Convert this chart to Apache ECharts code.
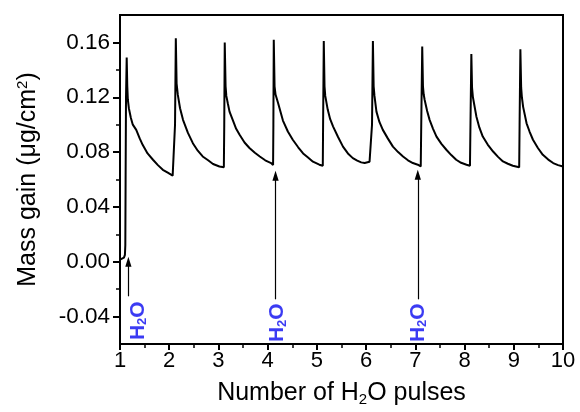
<!DOCTYPE html>
<html>
<head>
<meta charset="utf-8">
<script src="https://cdn.jsdelivr.net/npm/echarts@6/dist/echarts.min.js"></script>
<style>html,body{margin:0;padding:0;background:#fff;}#c{width:580px;height:412px;}</style>
</head>
<body>
<div id="c"></div>
<script>
// ---- data: [pulse number, mass gain (ug/cm2)] ----
var start = [[1.00,0.0015],[1.04,0.002],[1.08,0.003],[1.10,0.005],[1.108,0.012],[1.114,0.06],[1.122,0.12],[1.136,0.149]];
var cycle1 = [[1.148,0.128],[1.160,0.118],[1.18,0.112],[1.22,0.105],[1.26,0.100],[1.33,0.0962],[1.40,0.090],[1.46,0.0853],[1.56,0.079],[1.67,0.0744],[1.77,0.0705],[1.87,0.0671],[1.97,0.065],[2.07,0.0628],[2.11,0.062],[2.118,0.10],[2.134,0.163]];
var cycle2 = [[2.150,0.130],[2.175,0.1217],[2.22,0.112],[2.28,0.1035],[2.38,0.094],[2.48,0.0865],[2.58,0.081],[2.68,0.0768],[2.79,0.074],[2.89,0.0713],[3.02,0.0695],[3.11,0.069],[3.118,0.10],[3.128,0.160]];
var cycle3 = [[3.145,0.128],[3.16,0.121],[3.19,0.1156],[3.225,0.1095],[3.29,0.1035],[3.36,0.097],[3.43,0.0926],[3.53,0.087],[3.63,0.083],[3.74,0.0795],[3.84,0.0768],[3.95,0.074],[4.07,0.072],[4.11,0.0705],[4.116,0.10],[4.124,0.162]];
var cycle4 = [[4.14,0.128],[4.16,0.122],[4.21,0.116],[4.31,0.103],[4.41,0.095],[4.51,0.089],[4.62,0.0835],[4.72,0.079],[4.82,0.076],[4.92,0.073],[5.05,0.0708],[5.12,0.070],[5.126,0.10],[5.14,0.161]];
var cycle5 = [[5.155,0.128],[5.17,0.121],[5.22,0.111],[5.27,0.104],[5.33,0.0986],[5.43,0.091],[5.53,0.084],[5.63,0.079],[5.73,0.0756],[5.82,0.0738],[5.90,0.0725],[5.97,0.072],[6.07,0.073],[6.11,0.0725],[6.12,0.10],[6.138,0.161]];
var cycle6 = [[6.153,0.128],[6.17,0.121],[6.21,0.1095],[6.27,0.102],[6.34,0.0962],[6.44,0.090],[6.545,0.084],[6.65,0.080],[6.75,0.0768],[6.85,0.074],[6.95,0.072],[7.05,0.0708],[7.11,0.0695],[7.12,0.10],[7.14,0.157]];
var cycle7 = [[7.155,0.128],[7.17,0.122],[7.19,0.118],[7.24,0.110],[7.29,0.1035],[7.36,0.097],[7.43,0.0913],[7.53,0.086],[7.63,0.0817],[7.73,0.0778],[7.83,0.0744],[7.93,0.0722],[8.04,0.0708],[8.11,0.070],[8.12,0.10],[8.138,0.1515]];
var cycle8 = [[8.152,0.127],[8.17,0.120],[8.24,0.106],[8.30,0.098],[8.37,0.0913],[8.47,0.0855],[8.58,0.0804],[8.68,0.0765],[8.78,0.0732],[8.88,0.0715],[8.98,0.070],[9.11,0.069],[9.118,0.10],[9.134,0.155]];
var cycle9 = [[9.15,0.127],[9.165,0.120],[9.19,0.113],[9.26,0.101],[9.32,0.095],[9.39,0.089],[9.49,0.083],[9.59,0.078],[9.70,0.0745],[9.80,0.072],[9.90,0.0705],[10.0,0.0695]];

var yLabelValues = [-0.04, 0.00, 0.04, 0.08, 0.12, 0.16];
var yMinorValues = [-0.02, 0.02, 0.06, 0.10, 0.14];

// annotation arrows: [x, tail y, head y]
var arrows = [[1.17, -0.0252, 0.0], [4.16, -0.0274, 0.0628], [7.05, -0.0274, 0.0635]];
// annotation labels: [x, y]
var h2oLabels = [[1.37, -0.043], [4.20, -0.0445], [7.06, -0.0445]];

var curve = [].concat(start, cycle1, cycle2, cycle3, cycle4, cycle5, cycle6, cycle7, cycle8, cycle9);

var FONT = '"Liberation Sans", Arial, sans-serif';
var BLUE = '#0a0af0';
var chart = echarts.init(document.getElementById('c'), null, {renderer: 'canvas'});
var option = {
  animation: false,
  backgroundColor: '#fff',
  grid: {left: 120, right: 17, top: 15, bottom: 67, show: true, borderColor: '#000', borderWidth: 2, backgroundColor: 'transparent'},
  xAxis: {
    type: 'value', min: 1, max: 10, interval: 1,
    axisLine: {show: true, onZero: false, lineStyle: {color: '#000', width: 2}},
    axisTick: {show: true, inside: false, length: 6, lineStyle: {color: '#000', width: 2}},
    minorTick: {show: true, splitNumber: 2, length: 4, lineStyle: {color: '#000', width: 1.5}},
    splitLine: {show: false},
    axisLabel: {fontSize: 22, color: '#000', fontFamily: FONT, margin: 6},
    name: 'Number of H{sub|2}O pulses',
    nameLocation: 'middle', nameGap: 36,
    nameTextStyle: {fontSize: 25, color: '#000', fontFamily: FONT,
      rich: {sub: {fontSize: 15, fontFamily: FONT, color: '#000', verticalAlign: 'bottom', padding: [12, 0, 0, 0]}}}
  },
  yAxis: [{
    type: 'value', min: -0.06, max: 0.18,
    axisLine: {show: true, onZero: false, lineStyle: {color: '#000', width: 2}},
    axisTick: {show: true, inside: false, length: 7, customValues: yLabelValues, lineStyle: {color: '#000', width: 2}},
    splitLine: {show: false},
    axisLabel: {fontSize: 22.5, color: '#000', fontFamily: FONT, margin: 10, customValues: yLabelValues,
      formatter: function (v) { return v.toFixed(2); }},
    name: 'Mass gain (\u03bcg/cm{sup|2})',
    nameLocation: 'middle', nameGap: 78,
    nameTextStyle: {fontSize: 25, color: '#000', fontFamily: FONT,
      rich: {sup: {fontSize: 15, fontFamily: FONT, color: '#000', verticalAlign: 'top', padding: [0, 0, 12, 0]}}}
  }, {
    type: 'value', min: -0.06, max: 0.18, position: 'left', offset: 0,
    axisLine: {show: false, onZero: false},
    axisTick: {show: true, inside: false, length: 4, customValues: yMinorValues, lineStyle: {color: '#000', width: 1.5}},
    axisLabel: {show: false},
    splitLine: {show: false}
  }],
  series: [{
    type: 'line',
    data: curve,
    showSymbol: false,
    symbol: 'none',
    lineStyle: {color: '#000', width: 2},
    silent: true,
    z: 3
  }, {
    type: 'scatter',
    data: h2oLabels,
    symbolSize: 0,
    silent: true,
    label: {
      show: true, position: 'inside', rotate: 90,
      formatter: '{m|H}{s|2}{m|O}',
      rich: {
        m: {fontSize: 21, fontWeight: 'bold', color: BLUE, fontFamily: FONT},
        s: {fontSize: 13, fontWeight: 'bold', color: BLUE, fontFamily: FONT, verticalAlign: 'bottom', padding: [9, 0, 0, 0]}
      }
    },
    markLine: {
      silent: true,
      symbol: ['none', 'path://M5,0 L10,16 L0,16 Z'],
      symbolSize: 10,
      symbolKeepAspect: true,
      label: {show: false},
      lineStyle: {color: '#000', width: 1.2, type: 'solid'},
      data: arrows.map(function (a) { return [{coord: [a[0], a[1]]}, {coord: [a[0], a[2]]}]; })
    }
  }]
};
chart.setOption(option);
</script>
</body>
</html>
